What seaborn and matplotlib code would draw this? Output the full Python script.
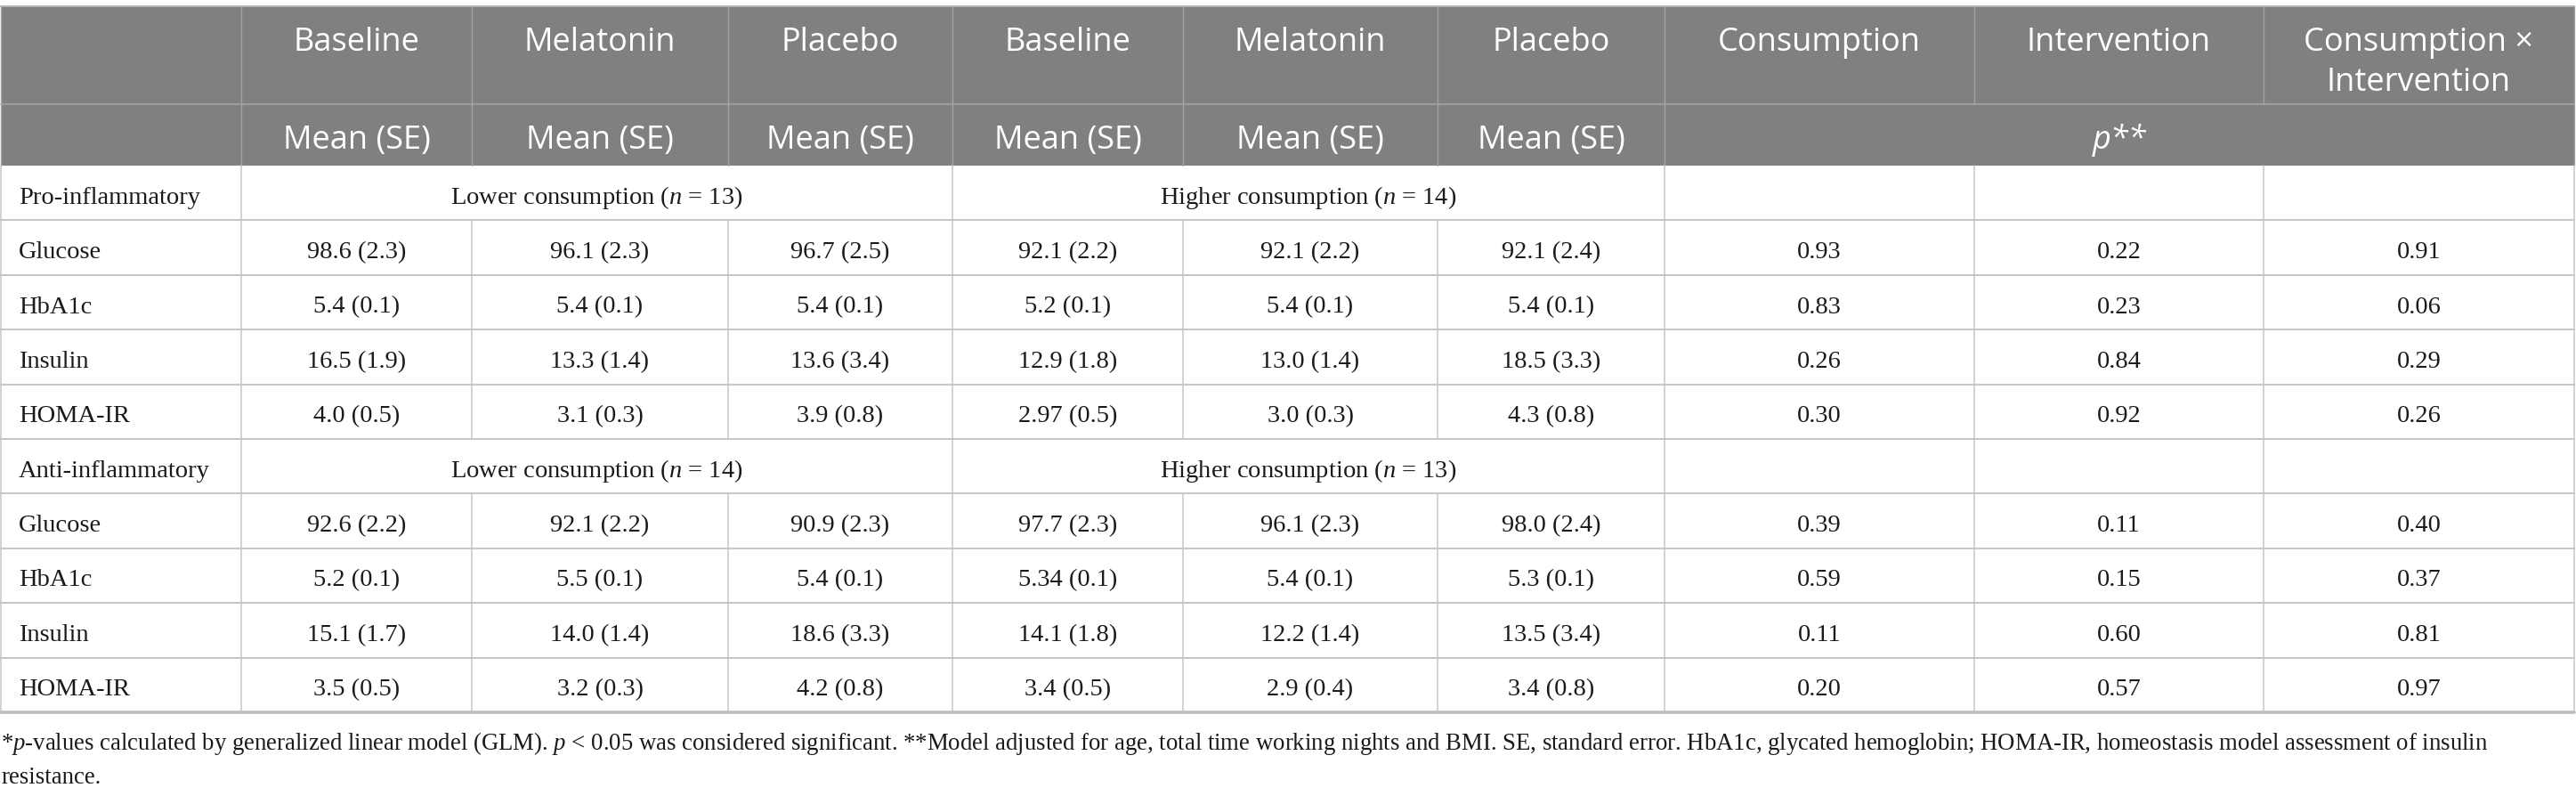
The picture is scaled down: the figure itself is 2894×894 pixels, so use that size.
import matplotlib
matplotlib.use("Agg")
import matplotlib.pyplot as plt
import seaborn as sns
from matplotlib.patches import Rectangle

# ---------------- data ----------------
col_headers = ["Baseline", "Melatonin", "Placebo", "Baseline", "Melatonin", "Placebo",
               "Consumption", "Intervention", "Consumption ×\nIntervention"]
sub_header = "Mean (SE)"
p_header = "p**"
group_names = ["Pro-inflammatory", "Anti-inflammatory"]
group_spans = [["Lower consumption ($n$ = 13)", "Higher consumption ($n$ = 14)"],
               ["Lower consumption ($n$ = 14)", "Higher consumption ($n$ = 13)"]]
variables = ["Glucose", "HbA1c", "Insulin", "HOMA-IR"]

pro_glucose = ["98.6 (2.3)", "96.1 (2.3)", "96.7 (2.5)", "92.1 (2.2)", "92.1 (2.2)", "92.1 (2.4)", "0.93", "0.22", "0.91"]
pro_hba1c = ["5.4 (0.1)", "5.4 (0.1)", "5.4 (0.1)", "5.2 (0.1)", "5.4 (0.1)", "5.4 (0.1)", "0.83", "0.23", "0.06"]
pro_insulin = ["16.5 (1.9)", "13.3 (1.4)", "13.6 (3.4)", "12.9 (1.8)", "13.0 (1.4)", "18.5 (3.3)", "0.26", "0.84", "0.29"]
pro_homa = ["4.0 (0.5)", "3.1 (0.3)", "3.9 (0.8)", "2.97 (0.5)", "3.0 (0.3)", "4.3 (0.8)", "0.30", "0.92", "0.26"]

anti_glucose = ["92.6 (2.2)", "92.1 (2.2)", "90.9 (2.3)", "97.7 (2.3)", "96.1 (2.3)", "98.0 (2.4)", "0.39", "0.11", "0.40"]
anti_hba1c = ["5.2 (0.1)", "5.5 (0.1)", "5.4 (0.1)", "5.34 (0.1)", "5.4 (0.1)", "5.3 (0.1)", "0.59", "0.15", "0.37"]
anti_insulin = ["15.1 (1.7)", "14.0 (1.4)", "18.6 (3.3)", "14.1 (1.8)", "12.2 (1.4)", "13.5 (3.4)", "0.11", "0.60", "0.81"]
anti_homa = ["3.5 (0.5)", "3.2 (0.3)", "4.2 (0.8)", "3.4 (0.5)", "2.9 (0.4)", "3.4 (0.8)", "0.20", "0.57", "0.97"]

group_rows = [[pro_glucose, pro_hba1c, pro_insulin, pro_homa],
              [anti_glucose, anti_hba1c, anti_insulin, anti_homa]]

footnote_lines = [
    "*$p$-values calculated by generalized linear model (GLM). $p$ < 0.05 was considered significant. "
    "**Model adjusted for age, total time working nights and BMI. SE, standard error. HbA1c, glycated hemoglobin; "
    "HOMA-IR, homeostasis model assessment of insulin",
    "resistance.",
]

# ---------------- style ----------------
sns.set_theme(style="white")
plt.rcParams["font.family"] = ["Liberation Serif", "DejaVu Serif"]
plt.rcParams["mathtext.fontset"] = "custom"
plt.rcParams["mathtext.rm"] = "Liberation Serif"
plt.rcParams["mathtext.it"] = "Liberation Serif:italic"

W, H = 2894, 895
fig = plt.figure(figsize=(W / 100, H / 100), dpi=100)
ax = fig.add_axes([0, 0, 1, 1])
ax.set_xlim(0, W)
ax.set_ylim(H, 0)
ax.axis("off")

col_edges = [1, 271, 530, 818, 1070, 1329, 1615, 1870, 2218, 2543, 2892]
hdr_top, hdr_mid, hdr_bot = 8, 118, 187
row_h = 61.4
header_gray = "#808080"
hdr_line = "#a3a3a3"
grid = "#c6c6c6"
txt = "#1a1a1a"
hfont = dict(family=["Open Sans", "DejaVu Sans"], color="white", fontsize=26)
bfont = dict(color=txt, fontsize=20.5)
ffont = dict(color=txt, fontsize=19.3)

# header background
ax.add_patch(Rectangle((col_edges[0], hdr_top), col_edges[-1] - col_edges[0], hdr_bot - hdr_top,
                       facecolor=header_gray, edgecolor="none", zorder=1))
ax.plot([col_edges[0], col_edges[-1]], [hdr_top, hdr_top], color="#b5b5b5", lw=1.4, zorder=2)
ax.plot([col_edges[0], col_edges[-1]], [hdr_mid, hdr_mid], color=hdr_line, lw=1.2, zorder=2)
for i, x in enumerate(col_edges):
    ax.plot([x, x], [hdr_top, hdr_mid], color=hdr_line, lw=1.0, zorder=2)
    if i <= 7 or i == len(col_edges) - 1:
        ax.plot([x, x], [hdr_mid, hdr_bot], color=hdr_line, lw=1.0, zorder=2)

# header texts
for j, label in enumerate(col_headers):
    cx = (col_edges[j + 1] + col_edges[j + 2]) / 2
    for k, line in enumerate(label.split("\n")):
        ax.text(cx, 57 + 45 * k, line, ha="center", va="baseline", zorder=3, **hfont)
for j in range(6):
    cx = (col_edges[j + 1] + col_edges[j + 2]) / 2
    ax.text(cx, 167, sub_header, ha="center", va="baseline", zorder=3, **hfont)
ax.text((col_edges[7] + col_edges[10]) / 2, 167, p_header, ha="center", va="baseline",
        style="italic", zorder=3, **hfont)

# body
y = hdr_bot
for g, gname in enumerate(group_names):
    # group row
    ax.text(21, y + row_h / 2 + 11, gname, ha="left", va="baseline", **bfont)
    ax.text((col_edges[1] + col_edges[4]) / 2, y + row_h / 2 + 11, group_spans[g][0],
            ha="center", va="baseline", **bfont)
    ax.text((col_edges[4] + col_edges[7]) / 2, y + row_h / 2 + 11, group_spans[g][1],
            ha="center", va="baseline", **bfont)
    for x in [col_edges[0], col_edges[1], col_edges[4], col_edges[7], col_edges[8], col_edges[9], col_edges[10]]:
        ax.plot([x, x], [y, y + row_h], color=grid, lw=1.1)
    y += row_h
    ax.plot([col_edges[0], col_edges[-1]], [y, y], color=grid, lw=1.4)
    for v, vname in enumerate(variables):
        vals = group_rows[g][v]
        ax.text(21, y + row_h / 2 + 11, vname, ha="left", va="baseline", **bfont)
        for j, val in enumerate(vals):
            cx = (col_edges[j + 1] + col_edges[j + 2]) / 2
            ax.text(cx, y + row_h / 2 + 11, val, ha="center", va="baseline", **bfont)
        for x in col_edges:
            ax.plot([x, x], [y, y + row_h], color=grid, lw=1.1)
        y += row_h
        last = (g == len(group_names) - 1 and v == len(variables) - 1)
        ax.plot([col_edges[0], col_edges[-1]], [y, y], color="#bdbdbd" if last else grid,
                lw=2.6 if last else 1.4)

# footnote
for k, line in enumerate(footnote_lines):
    ax.text(1, 842 + 38 * k, line, ha="left", va="baseline", **ffont)

fig.savefig("out.png", dpi=100, facecolor="white")
